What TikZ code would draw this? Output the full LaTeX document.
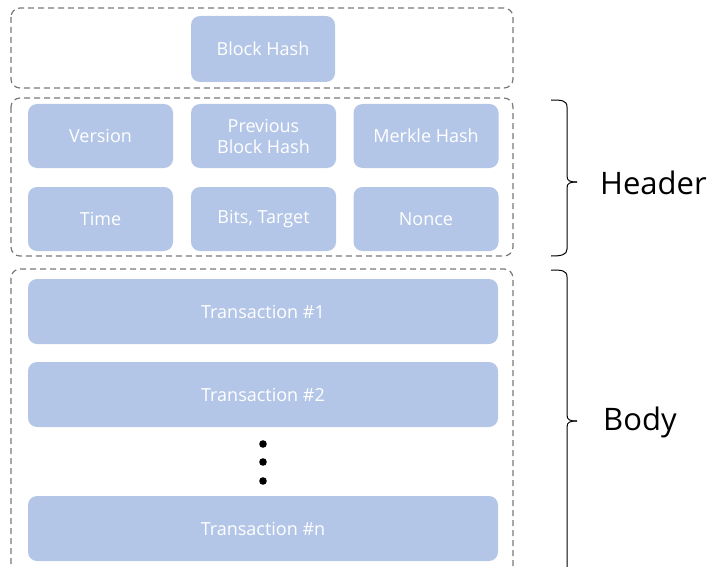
\documentclass[tikz,border=0pt]{standalone}
\usepackage{fontspec}
\setmainfont{Open Sans}
\usetikzlibrary{positioning}
\definecolor{boxblue}{HTML}{B4C6E7}
\definecolor{dashgrey}{HTML}{7A7A7A}
\begin{document}
\begin{tikzpicture}[x=1pt,y=-1pt,
  field/.style={fill=boxblue,draw=none,rounded corners=9pt,text=white,
    align=center,font=\fontsize{18}{21}\selectfont,inner sep=0pt},
  grp/.style={draw=dashgrey,line width=1.2pt,dash pattern=on 6pt off 4pt,rounded corners=9pt},
  brc/.style={draw=black,line width=1pt},
  lbl/.style={font=\fontsize{31}{36}\selectfont,anchor=west,inner sep=0pt}]
\useasboundingbox (0,0) rectangle (709,567);
\begin{scope}
\clip (0,0) rectangle (709,567);
% group boxes
\draw[grp] (11,8) rectangle (513,88);
\draw[grp] (11,98) rectangle (513,256);
\draw[grp] (11,269) rectangle (513,590);
% fields
\node[field,minimum width=144pt,minimum height=66pt] (bh) at (263,49) {Block Hash};
\node[field,minimum width=145pt,minimum height=64pt] (ver) at (100.5,136) {Version};
\node[field,minimum width=145pt,minimum height=64pt] (pbh) at (263.5,136) {Previous\\Block Hash};
\node[field,minimum width=145pt,minimum height=64pt] (mh) at (426,136) {Merkle Hash};
\node[field,minimum width=145pt,minimum height=64pt] (tm) at (100.5,219) {Time};
\node[field,minimum width=145pt,minimum height=64pt] (bt) at (263.5,219) {Bits, Target};
\node[field,minimum width=145pt,minimum height=64pt] (nc) at (426,219) {Nonce};
\node[field,minimum width=470pt,minimum height=65pt] (t1) at (263,311.5) {Transaction \#1};
\node[field,minimum width=470pt,minimum height=65pt] (t2) at (263,394.5) {Transaction \#2};
\node[field,minimum width=470pt,minimum height=65pt] (tn) at (263,528.5) {Transaction \#n};
% dots
\fill (263,444) circle (3.8pt);
\fill (263,462) circle (3.8pt);
\fill (263,481) circle (3.8pt);
% braces
\draw[brc] (551,100) .. controls (561,100) and (567,100) .. (567,107)
  -- (567,176) .. controls (567,181) and (570,182) .. (577,182);
\draw[brc] (577,182) .. controls (570,182) and (567,183) .. (567,188)
  -- (567,249) .. controls (567,255) and (561,256) .. (551,256);
\draw[brc] (551,270) .. controls (561,270) and (567,270) .. (567,277)
  -- (567,415) .. controls (567,420) and (570,421) .. (577,421);
\draw[brc] (577,421) .. controls (570,421) and (567,422) .. (567,427)
  -- (567,600);
\end{scope}
\node[lbl] (hdr) at (600,183) {Header};
\node[lbl] (bdy) at (603,422) {Body};
\end{tikzpicture}
\end{document}
